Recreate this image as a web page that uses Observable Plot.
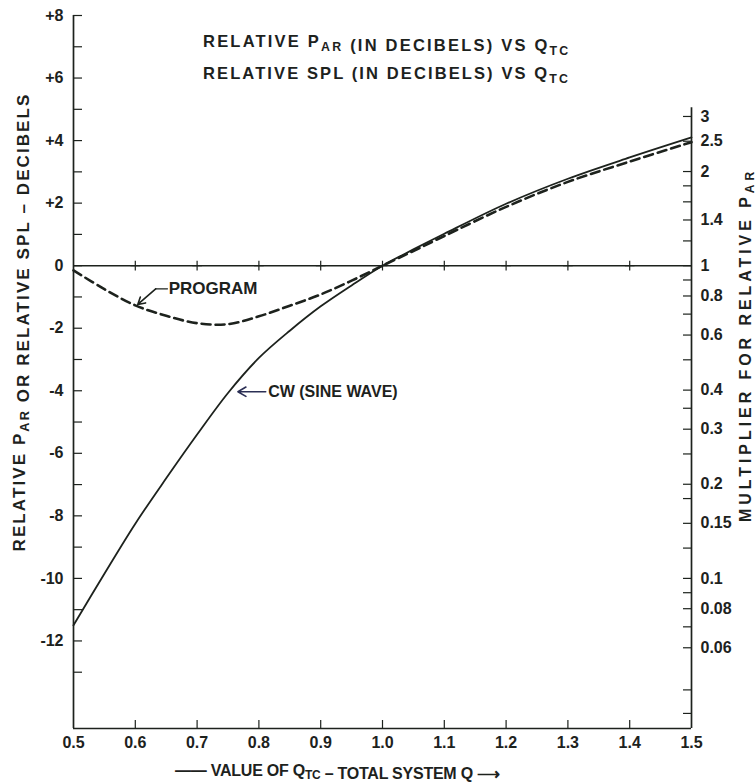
<!DOCTYPE html>
<html>
<head>
<meta charset="utf-8">
<script src="https://cdn.jsdelivr.net/npm/d3@7"></script>
<script src="https://cdn.jsdelivr.net/npm/@observablehq/plot@0.6"></script>
<style>
  html, body { margin: 0; padding: 0; background: #fff; }
  #chart svg { display: block; }
</style>
</head>
<body>
<div id="chart"></div>
<script>
// ---- Data ----
const qtc       = [0.5, 0.55, 0.6, 0.65, 0.7, 0.75, 0.8, 0.85, 0.9, 0.95, 1.0, 1.05, 1.1, 1.2, 1.3, 1.4, 1.5];
const cwDb      = [-11.5, -9.85, -8.25, -6.8, -5.4, -4.07, -2.95, -2.08, -1.3, -0.63, 0, 0.52, 1.02, 1.98, 2.78, 3.46, 4.1];
const programDb = [-0.15, -0.75, -1.27, -1.6, -1.84, -1.87, -1.62, -1.28, -0.92, -0.48, 0, 0.47, 0.95, 1.88, 2.68, 3.33, 3.95];

const xTickLabels = [0.5, 0.6, 0.7, 0.8, 0.9, 1.0, 1.1, 1.2, 1.3, 1.4, 1.5];
const xInnerTicks = [0.6, 0.7, 0.8, 0.9, 1.0, 1.1, 1.2, 1.3, 1.4];
const yMajor = [8, 6, 4, 2, 0, -2, -4, -6, -8, -10, -12];
const yMinor = [8, 7, 6, 5, 4, 3, 2, 1, 0, -1, -2, -3, -4, -5, -6, -7, -8, -9, -10, -11, -12, -13];
const yDomain = [-14.8, 8];

const multLabels = ["3", "2.5", "2", "1.4", "1", "0.8", "0.6", "0.4", "0.3", "0.2", "0.15", "0.1", "0.08", "0.06"];
const multTicks = [3, 2.5, 2, 1.8, 1.6, 1.4, 1.2, 1, 0.9, 0.8, 0.7, 0.6, 0.5, 0.4, 0.35, 0.3, 0.25, 0.2, 0.18, 0.15, 0.125, 0.1, 0.09, 0.08, 0.07, 0.06, 0.044, 0.037];
const multAxisTop = 3.2;

// annotations
const programLabel = {text: "PROGRAM", q: 0.654, db: -0.74};
const programLeader = [{q: 0.652, db: -0.74}, {q: 0.633, db: -0.74}];
const programArrow = {q1: 0.633, db1: -0.74, q2: 0.604, db2: -1.24};
const cwLabel = {text: "CW (SINE WAVE)", q: 0.815, db: -4.03};
const cwArrow = {q1: 0.811, db1: -4.03, q2: 0.766, db2: -4.03};

// ---- Build tables ----
const cwRows = qtc.map((q, i) => ({q, db: cwDb[i]}));
const progRows = qtc.map((q, i) => ({q, db: programDb[i]}));
const toDb = m => 10 * Math.log10(m);
const multLabelMap = new Map(multLabels.map(s => [toDb(+s).toFixed(4), s]));
const ink = "#1d221d";
const font = "'Liberation Sans', Arial, sans-serif";

const chart = Plot.plot({
  width: 756,
  height: 784,
  marginLeft: 73,
  marginRight: 65,
  marginTop: 15,
  marginBottom: 56,
  style: {fontFamily: font, fontSize: "15px", fontWeight: "bold", color: ink, background: "#fff"},
  x: {domain: [0.5, 1.5]},
  y: {domain: yDomain},
  marks: [
    Plot.ruleX([0.5], {stroke: ink, strokeWidth: 1.7}),
    Plot.ruleX([1.5], {y1: toDb(multAxisTop), y2: yDomain[0], stroke: ink, strokeWidth: 1.7}),
    Plot.ruleY([yDomain[0]], {stroke: ink, strokeWidth: 1.7}),
    Plot.ruleY([0], {stroke: ink, strokeWidth: 1.6}),
    Plot.dot(xInnerTicks, {x: d => d, y: () => 0, symbol: "plus", r: 3.2, stroke: ink, strokeWidth: 1.2}),
    Plot.axisX(xInnerTicks, {anchor: "bottom", tickSize: 8, dy: -8, tickFormat: () => "", stroke: ink, strokeWidth: 1.2}),
    Plot.axisX(xTickLabels, {anchor: "bottom", tickSize: 0, tickPadding: 8, fontSize: 16, tickFormat: d => d.toFixed(1)}),
    Plot.axisY(yMinor, {anchor: "left", tickSize: 9, dx: 9, tickFormat: () => "", stroke: ink, strokeWidth: 1.2}),
    Plot.axisY(yMajor, {anchor: "left", tickSize: 0, tickPadding: 10, fontSize: 16,
      tickFormat: d => d > 0 ? "+" + d : d < 0 ? "-" + (-d) : "0"}),
    Plot.axisY(multTicks.map(toDb), {anchor: "right", tickSize: 9, dx: -9, tickFormat: () => "", stroke: ink, strokeWidth: 1.2}),
    Plot.axisY(multLabels.map(s => toDb(+s)), {anchor: "right", tickSize: 0, tickPadding: 9, fontSize: 16,
      tickFormat: d => multLabelMap.get(d.toFixed(4))}),
    Plot.line(cwRows, {x: "q", y: "db", curve: "catmull-rom", stroke: ink, strokeWidth: 1.8}),
    Plot.line(progRows, {x: "q", y: "db", curve: "catmull-rom", stroke: ink, strokeWidth: 2.6, strokeDasharray: "9,5"}),
    Plot.text([programLabel], {x: "q", y: "db", text: "text", textAnchor: "start", fontSize: 17, fill: ink}),
    Plot.line(programLeader, {x: "q", y: "db", stroke: ink, strokeWidth: 1.3}),
    Plot.arrow([programArrow], {x1: "q1", y1: "db1", x2: "q2", y2: "db2", stroke: ink, strokeWidth: 1.6, headLength: 9}),
    Plot.text([cwLabel], {x: "q", y: "db", text: "text", textAnchor: "start", fontSize: 16, fill: ink}),
    Plot.arrow([cwArrow], {x1: "q1", y1: "db1", x2: "q2", y2: "db2", stroke: "#2b2f55", strokeWidth: 1.6, headLength: 9})
  ]
});

document.getElementById("chart").appendChild(chart);

// ---- texts with subscripts, stretched to the reference's span ----
const svg = d3.select(chart);
function addText(parts, attrs) {
  const size = attrs.size || 15;
  const t = svg.append("text")
    .attr("fill", ink)
    .attr("font-family", font)
    .attr("font-weight", "bold")
    .attr("font-size", size)
    .attr("text-anchor", attrs.anchor || "start")
    .attr("transform", attrs.transform);
  let n = 0;
  parts.forEach(p => {
    if (typeof p === "string") {
      t.append("tspan").text(p);
      n += p.length;
    } else {
      t.append("tspan").attr("font-size", size * 0.75).attr("dy", attrs.subDy || 4).text(p.sub);
      t.append("tspan").attr("dy", -(attrs.subDy || 4)).text("");
      n += p.sub.length;
    }
  });
  if (attrs.span) {
    const L = t.node().getComputedTextLength();
    const ls = (attrs.span - L) / Math.max(1, n - 1);
    t.attr("letter-spacing", ls.toFixed(2));
  }
  return t;
}
addText(["RELATIVE P", {sub: "AR"}, " (IN DECIBELS) VS Q", {sub: "TC"}], {transform: "translate(203,47)", size: 16.5, span: 365});
addText(["RELATIVE SPL (IN DECIBELS) VS Q", {sub: "TC"}], {transform: "translate(203,79)", size: 16.5, span: 365});
addText(["RELATIVE P", {sub: "AR"}, " OR RELATIVE SPL \u2013 DECIBELS"],
  {transform: "translate(25,322) rotate(-90)", anchor: "middle", size: 17, span: 457});
addText(["MULTIPLIER FOR RELATIVE P", {sub: "AR"}],
  {transform: "translate(751,345) rotate(-90)", anchor: "middle", size: 16, span: 350, subDy: 3});
addText(["\u2014\u2014 VALUE OF Q", {sub: "TC"}, " \u2013 TOTAL SYSTEM Q \u27F6"],
  {transform: "translate(175,776)", size: 16, span: 325, subDy: 3});
</script>
</body>
</html>
